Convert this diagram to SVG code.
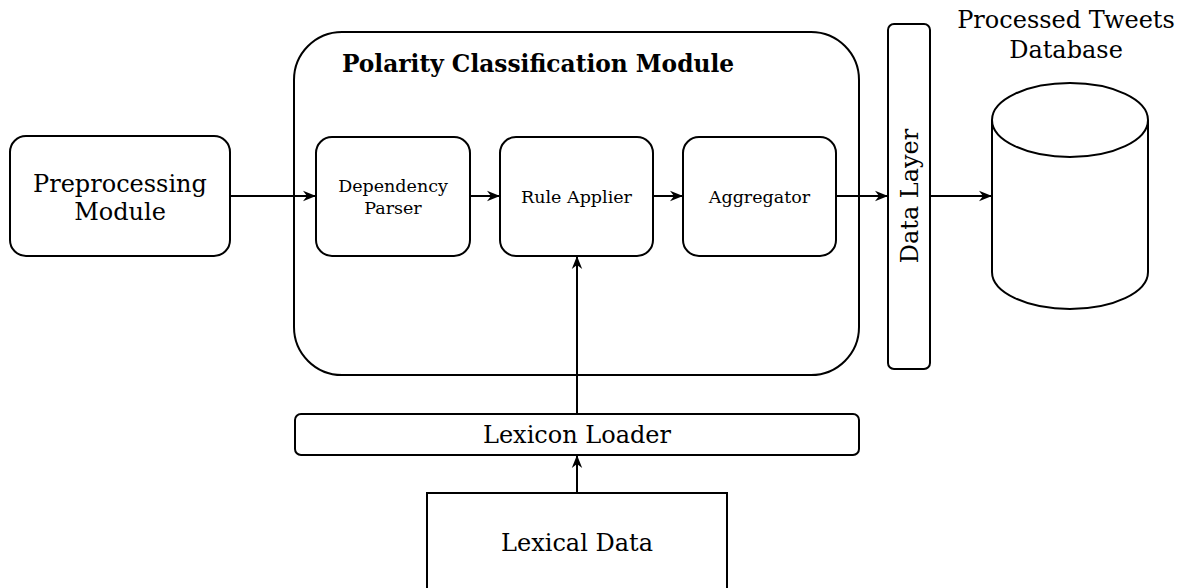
<svg xmlns="http://www.w3.org/2000/svg" width="1184" height="588" viewBox="0 0 1184 588">
<style>
.box{fill:#fff;stroke:#000;stroke-width:2}
.t{font-family:"DejaVu Serif",serif;fill:#000;text-anchor:middle}
.big{font-size:24px}
.sm{font-size:17.5px}
.conn{fill:none;stroke:#000;stroke-width:2}
</style>
<defs>
<marker id="arr" markerUnits="userSpaceOnUse" markerWidth="14" markerHeight="12" viewBox="0 0 14 12" refX="13" refY="6" orient="auto">
<path d="M0,0.8 L13,6 L0,11.2 L4,6 Z" fill="#000"/>
</marker>
</defs>
<g id="polarity-module">
<rect class="box" x="294" y="32" width="565" height="343" rx="48"/>
<text class="t" x="538" y="72" font-size="23.3" font-weight="bold">Polarity Classification Module</text>
</g>
<g id="preprocessing">
<rect class="box" x="10" y="136" width="220" height="120" rx="16"/>
<text class="t big" x="120" y="192">Preprocessing</text>
<text class="t big" x="120" y="220">Module</text>
</g>
<g id="dependency-parser">
<rect class="box" x="316" y="137" width="154" height="119" rx="16"/>
<text class="t sm" x="393" y="192">Dependency</text>
<text class="t sm" x="393" y="214">Parser</text>
</g>
<g id="rule-applier">
<rect class="box" x="500" y="137" width="153" height="119" rx="16"/>
<text class="t sm" x="576.5" y="203">Rule Applier</text>
</g>
<g id="aggregator">
<rect class="box" x="683" y="137" width="153" height="119" rx="16"/>
<text class="t sm" x="759.5" y="203">Aggregator</text>
</g>
<g id="data-layer">
<rect class="box" x="888" y="24" width="42" height="345" rx="6"/>
<text class="t big" transform="translate(918,196) rotate(-90)">Data Layer</text>
</g>
<g id="database">
<path class="box" d="M992,120 L992,272 A78,37 0 0 0 1148,272 L1148,120 A78,37 0 0 0 992,120 Z"/>
<path class="box" d="M992,120 A78,37 0 0 0 1148,120" fill="none"/>
<text class="t big" x="1066" y="28">Processed Tweets</text>
<text class="t big" x="1066" y="58">Database</text>
</g>
<g id="lexicon-loader">
<rect class="box" x="295" y="414" width="564" height="41" rx="6"/>
<text class="t big" x="577" y="443">Lexicon Loader</text>
</g>
<g id="lexical-data">
<rect class="box" x="427" y="493" width="300" height="110"/>
<text class="t big" x="577" y="551">Lexical Data</text>
</g>
<g id="connectors">
<line class="conn" x1="230" y1="196" x2="316" y2="196" marker-end="url(#arr)"/>
<line class="conn" x1="470" y1="196" x2="500" y2="196" marker-end="url(#arr)"/>
<line class="conn" x1="653" y1="196" x2="683" y2="196" marker-end="url(#arr)"/>
<line class="conn" x1="836" y1="196" x2="888" y2="196" marker-end="url(#arr)"/>
<line class="conn" x1="930" y1="196" x2="992" y2="196" marker-end="url(#arr)"/>
<line class="conn" x1="577" y1="414" x2="577" y2="256" marker-end="url(#arr)"/>
<line class="conn" x1="577" y1="493" x2="577" y2="455" marker-end="url(#arr)"/>
</g>
</svg>
